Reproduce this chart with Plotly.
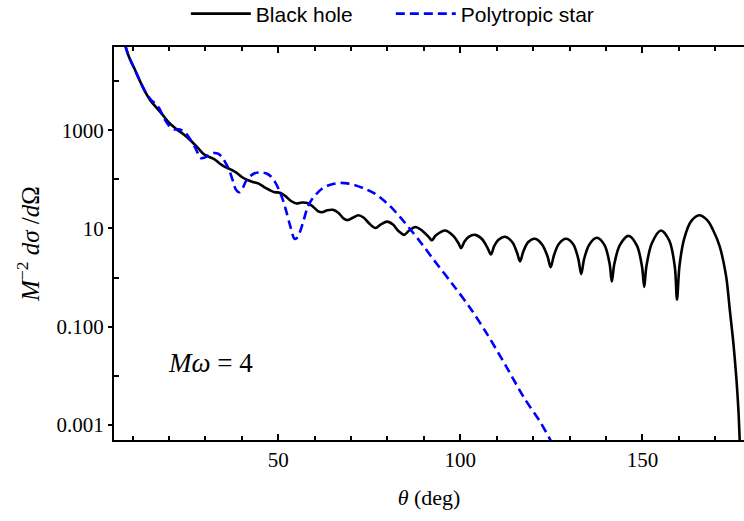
import plotly.graph_objects as go

# Black hole cross-section (theta in deg, log10 of M^-2 dsigma/dOmega)
bh_theta = [7.9, 9.0, 10.5, 12.0, 13.5, 15.0, 16.5, 18.0, 20.0, 22.0, 24.0, 26.0, 28.0, 29.5,
            31.0, 32.5, 34.0, 35.5, 37.0, 38.5, 40.0, 41.5, 43.0, 44.5, 46.0, 47.5, 49.0, 50.5,
            52.0, 53.5, 55.0, 56.5, 58.0, 59.5, 61.0, 62.0, 63.5, 65.0, 66.5, 68.0, 69.0, 70.5,
            72.0, 73.5, 75.0, 76.7, 78.3, 79.9, 81.5, 83.0,
            84.6, 85.8, 87.7, 89.6, 91.4, 92.2, 93.3, 95.9, 98.2, 99.5, 100.2, 101.2, 102.3,
            104.1, 106.0, 107.5, 108.4, 109.3, 110.5, 112.3, 114.3, 115.6, 116.4, 117.3, 118.6,
            120.5, 122.5, 124.0, 124.8, 125.7, 127.0, 129.0, 131.0, 132.4, 133.2, 134.0, 135.4,
            137.5, 139.6, 141.0, 141.6, 142.3, 143.8, 146.2, 148.5, 149.9, 150.5, 151.1, 152.6,
            155.1, 157.4, 158.9, 159.5, 160.2, 161.5, 163.4, 165.6, 167.8, 169.4, 171.2, 173.0,
            174.0, 175.0, 175.8, 176.4, 176.8]
bh_log10 = [4.75, 4.50, 4.26, 4.01, 3.78, 3.60, 3.47, 3.34, 3.16, 3.03, 2.92, 2.79, 2.64, 2.52,
            2.46, 2.41, 2.32, 2.25, 2.20, 2.14, 2.05, 1.99, 1.95, 1.92, 1.85, 1.79, 1.74, 1.73,
            1.66, 1.56, 1.51, 1.53, 1.52, 1.45, 1.35, 1.33, 1.37, 1.38, 1.32, 1.20, 1.17, 1.22,
            1.27, 1.22, 1.10, 1.01, 1.09, 1.14, 1.08, 0.95,
            0.87, 0.95, 1.03, 0.95, 0.82, 0.76, 0.86, 0.96, 0.84, 0.70, 0.60, 0.74, 0.83,
            0.87, 0.78, 0.60, 0.47, 0.64, 0.77, 0.83, 0.72, 0.50, 0.33, 0.53, 0.72,
            0.79, 0.67, 0.42, 0.21, 0.45, 0.68, 0.79, 0.68, 0.38, 0.07, 0.38, 0.67,
            0.81, 0.66, 0.28, -0.08, 0.28, 0.66, 0.85, 0.65, 0.22, -0.19, 0.23, 0.70,
            0.96, 0.75, 0.22, -0.45, 0.25, 0.80, 1.15, 1.27, 1.17, 0.97, 0.64, 0.02,
            -0.66, -1.35, -2.05, -2.75, -3.50]

# Polytropic star cross-section
ps_theta = [8.0, 9.0, 10.5, 12.0, 13.5, 15.0, 16.2, 17.3, 18.5, 20.0, 21.5, 23.0, 24.5, 26.0,
            27.4, 28.6, 29.6, 31.0, 32.4, 33.6, 34.7, 35.6, 36.5, 37.5, 38.4, 39.3, 40.2, 41.1,
            42.2, 43.4, 44.5, 45.7, 46.8, 48.0, 49.1, 50.2, 51.2, 52.1, 53.3, 54.5, 55.3, 56.2,
            57.1, 58.0, 59.3, 60.7, 62.0, 63.5, 65.3, 67.1, 69.0, 70.8, 73.5, 76.3, 78.5, 80.8,
            83.6, 86.3, 89.5, 92.7, 97.7, 102.7, 107.5, 112.5, 117.5, 122.0, 124.5, 126.0]
ps_log10 = [4.73, 4.50, 4.26, 4.01, 3.79, 3.63, 3.55, 3.45, 3.27, 3.10, 3.02, 3.02, 2.95, 2.80,
            2.62, 2.44, 2.44, 2.50, 2.54, 2.52, 2.44, 2.33, 2.20, 1.98, 1.79, 1.74, 1.82, 1.96,
            2.06, 2.12, 2.14, 2.14, 2.12, 2.06, 1.95, 1.79, 1.60, 1.38, 1.05, 0.79, 0.82, 0.98,
            1.20, 1.42, 1.60, 1.72, 1.81, 1.87, 1.91, 1.93, 1.92, 1.89, 1.82, 1.72, 1.60, 1.45,
            1.22, 0.98, 0.68, 0.36, -0.12, -0.62, -1.17, -1.80, -2.45, -2.95, -3.28, -3.50]

x_major = [50, 100, 150]
x_minor = [10, 20, 30, 40, 60, 70, 80, 90, 110, 120, 130, 140, 160, 170]
y_major = [0.001, 0.1, 10, 1000]
y_major_text = ["0.001", "0.100", "10", "1000"]
y_minor = [0.01, 1, 100, 10000]

serif = "Liberation Serif"
sans = "Liberation Sans"

fig = go.Figure()
fig.add_trace(go.Scatter(x=bh_theta, y=[10 ** v for v in bh_log10], mode="lines",
                         name="Black hole",
                         line=dict(color="black", width=2.6, shape="spline", smoothing=0.9)))
fig.add_trace(go.Scatter(x=ps_theta, y=[10 ** v for v in ps_log10], mode="lines",
                         name="Polytropic star",
                         line=dict(color="#0000ff", width=2.6, dash="9px,5px",
                                   shape="spline", smoothing=0.9)))

fig.update_layout(
    width=744, height=521,
    margin=dict(l=114, r=0, t=47, b=81, autoexpand=False),
    paper_bgcolor="white", plot_bgcolor="white",
    showlegend=True,
    legend=dict(orientation="h", xref="paper", yref="paper",
                x=0.114, y=1.084, xanchor="left", yanchor="middle",
                font=dict(family=sans, size=21, color="black"),
                itemwidth=60, entrywidth=130, entrywidthmode="pixels",
                tracegroupgap=0, bgcolor="rgba(0,0,0,0)"),
    xaxis=dict(range=[4.9, 177.9], showgrid=False, zeroline=False,
               showline=True, linecolor="black", linewidth=2, mirror="ticks",
               tickmode="array", tickvals=x_major, ticks="inside", ticklen=6,
               tickwidth=1.5, tickcolor="black",
               minor=dict(tickmode="array", tickvals=x_minor, ticks="inside",
                          ticklen=4, tickwidth=1.5, tickcolor="black"),
               tickfont=dict(family=serif, size=21, color="black"),
               title=dict(text="<i>θ</i> (deg)", standoff=18,
                          font=dict(family=serif, size=22, color="black"))),
    yaxis=dict(type="log", range=[-3.312, 4.70], showgrid=False, zeroline=False,
               showline=True, linecolor="black", linewidth=2, mirror=False,
               tickmode="array", tickvals=y_major, ticktext=y_major_text,
               ticks="outside", ticklen=4, tickwidth=1.5, tickcolor="black",
               minor=dict(tickmode="array", tickvals=y_minor, ticks="inside",
                          ticklen=5, tickwidth=1.5, tickcolor="black"),
               tickfont=dict(family=serif, size=21, color="black"),
               title=dict(text="<i>M</i><sup>−2</sup> <i>dσ</i> /<i>d</i>Ω", standoff=10,
                          font=dict(family=serif, size=25, color="black"))),
    annotations=[dict(x=31.4, y=-1.74, xref="x", yref="y",
                      text="<i>Mω</i> = 4", showarrow=False,
                      font=dict(family=serif, size=27, color="black"))],
)

fig.write_html("out.html")
